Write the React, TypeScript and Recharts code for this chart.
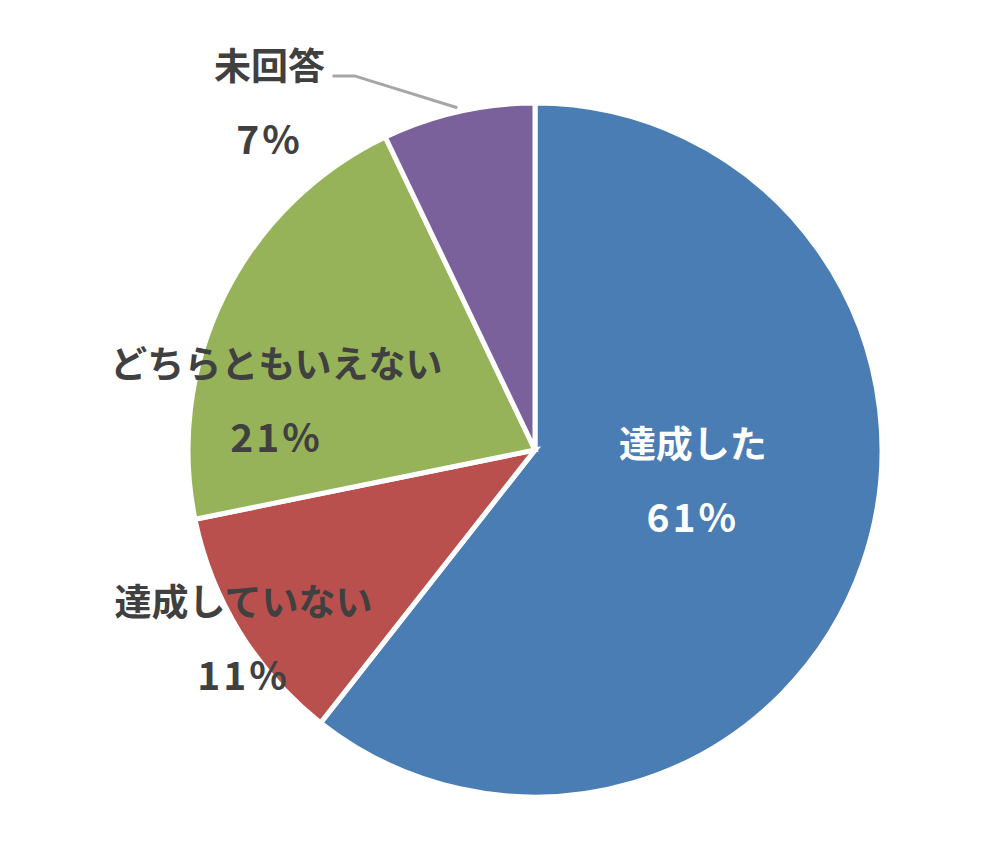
import React from "react";
import { PieChart, Pie, Cell } from "recharts";

const CATEGORIES = ["達成した", "達成していない", "どちらともいえない", "未回答"];
const VALUES = [60.6, 11.2, 21.1, 7.1];
const COLORS = ["#4A7DB3", "#B9504E", "#97B35A", "#7B619B"];
const TEXT_COLORS = ["#FFFFFF", "#404040", "#404040", "#404040"];

// label block centre, relative to pie centre, in units of the radius
const LABEL_POS = [
  { dx: 0.455, dy: 0.08 },
  { dx: -0.84, dy: 0.536 },
  { dx: -0.745, dy: -0.15 },
  { dx: -0.765, dy: -1.009 },
];

const FONT = "'Noto Sans CJK JP', 'Noto Sans', sans-serif";
const RAD = Math.PI / 180;

const data = CATEGORIES.map((name, i) => ({ name, value: VALUES[i] }));

function renderLabel(props: any) {
  const { cx, cy, outerRadius, midAngle, index, value } = props;
  const pos = LABEL_POS[index];
  const x = cx + pos.dx * outerRadius;
  const y = cy + pos.dy * outerRadius;
  const color = TEXT_COLORS[index];
  let leader = null;
  if (index === 3) {
    const ex = cx + (outerRadius + 4) * Math.cos(-midAngle * RAD);
    const ey = cy + (outerRadius + 4) * Math.sin(-midAngle * RAD);
    const ly = y - 24;
    leader = (
      <polyline
        points={`${x + 63},${ly} ${x + 85},${ly} ${ex},${ey}`}
        fill="none"
        stroke="#A6A6A6"
        strokeWidth={3}
      />
    );
  }
  return (
    <g key={`lbl-${index}`}>
      {leader}
      <text
        x={x}
        y={y - 36}
        textAnchor="middle"
        dominantBaseline="central"
        fill={color}
        fontFamily={FONT}
        fontWeight="bold"
        fontSize={37}
      >
        {CATEGORIES[index]}
      </text>
      <text
        x={x}
        y={y + 37}
        textAnchor="middle"
        dominantBaseline="central"
        fill={color}
        fontFamily={FONT}
        fontWeight="bold"
        fontSize={39}
        letterSpacing={3}
      >
        {Math.round(value)}%
      </text>
    </g>
  );
}

export default function App() {
  return (
    <div style={{ position: "absolute", left: 0, top: 0, background: "#fff" }}>
      <PieChart width={1000} height={850} margin={{ top: 0, right: 0, bottom: 0, left: 0 }}>
        <Pie
          data={data}
          dataKey="value"
          nameKey="name"
          cx={535}
          cy={450}
          outerRadius={347}
          startAngle={90}
          endAngle={-270}
          stroke="#FFFFFF"
          strokeWidth={5}
          label={renderLabel}
          labelLine={false}
          isAnimationActive={false}
        >
          {data.map((d, i) => (
            <Cell key={d.name} fill={COLORS[i]} />
          ))}
        </Pie>
      </PieChart>
    </div>
  );
}
